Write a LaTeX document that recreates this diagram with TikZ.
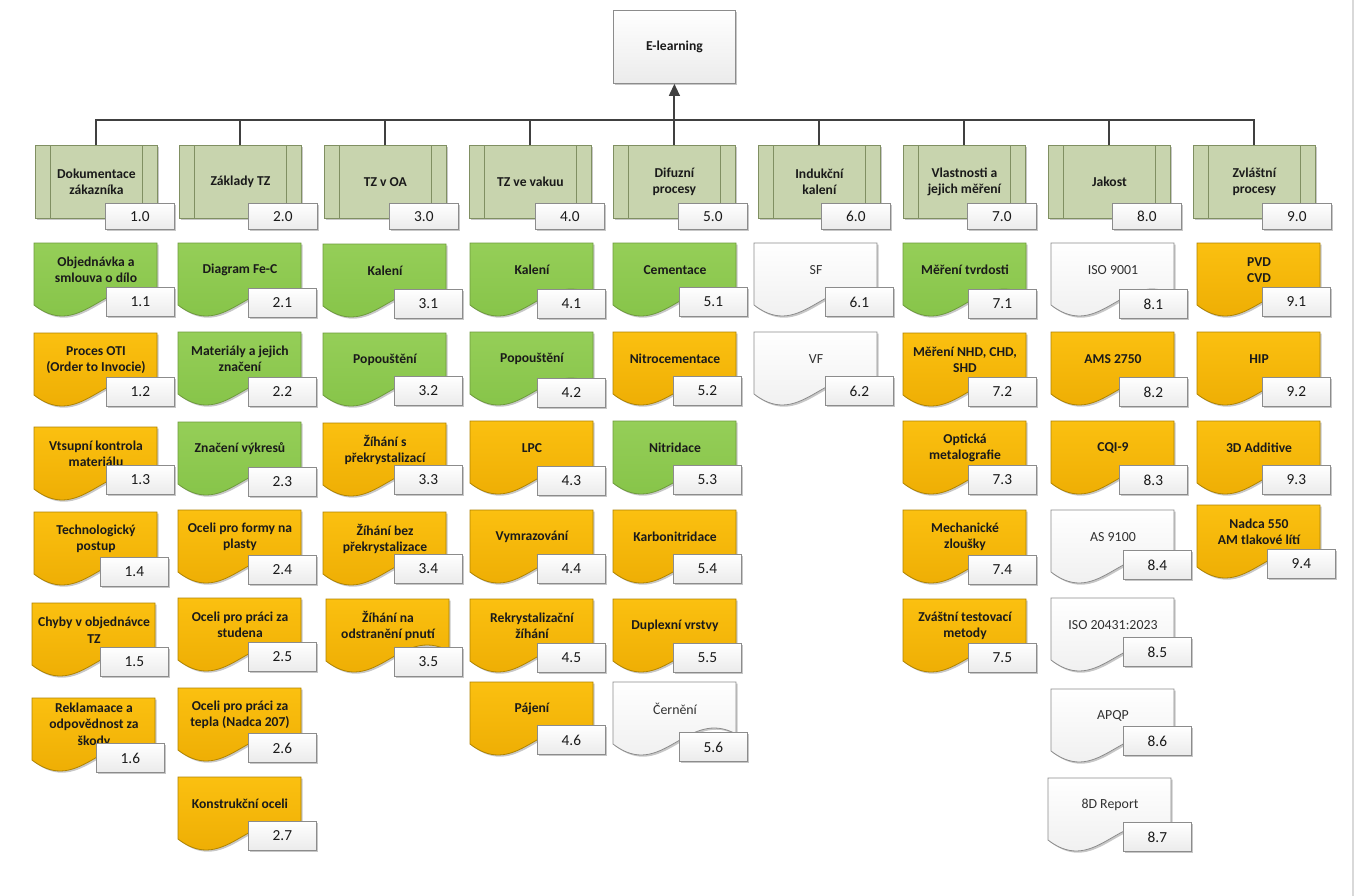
\documentclass[tikz,border=0pt]{standalone}
\usepackage{fontspec}
\setmainfont{Carlito}
\usetikzlibrary{arrows.meta,shadows}
\definecolor{gTop}{HTML}{95CE58}
\definecolor{gBot}{HTML}{82C144}
\definecolor{gBrd}{HTML}{6E9B3C}
\definecolor{oTop}{HTML}{FBC010}
\definecolor{oBot}{HTML}{EAA800}
\definecolor{oBrd}{HTML}{B08400}
\definecolor{wBot}{HTML}{EBEBEB}
\definecolor{wBrd}{HTML}{8C8C8C}
\definecolor{hFill}{HTML}{C8D4AE}
\definecolor{hBrd}{HTML}{808F62}
\definecolor{txt}{HTML}{1A1A1A}
\definecolor{lineC}{HTML}{404040}
\tikzset{
  myshadow/.style={drop shadow={shadow xshift=1.3pt,shadow yshift=-1.3pt,opacity=0.22,fill=black}},
  docshape/.style={line width=0.6pt,myshadow},
  greenfill/.style={top color=gTop,bottom color=gBot,draw=gBrd},
  orangefill/.style={top color=oTop,bottom color=oBot,draw=oBrd},
  whitefill/.style={top color=white,bottom color=wBot,draw=wBrd},
  boldtext/.style={align=center,text=txt,inner sep=0pt,font=\fontsize{10.2}{12.4}\selectfont\bfseries},
  greentext/.style={boldtext},
  orangetext/.style={boldtext},
  whitetext/.style={align=center,text=txt!90,inner sep=0pt,font=\fontsize{10.4}{12.4}\selectfont},
  numbox/.style={draw=wBrd,line width=0.6pt,top color=white,bottom color=wBot,myshadow,
    minimum width=51pt,minimum height=21.75pt,inner sep=0pt,text=txt,font=\fontsize{11.5}{13}\selectfont},
  hnumbox/.style={numbox,minimum width=51.75pt,minimum height=19.5pt},
  hdrbox/.style={draw=hBrd,fill=hFill,line width=0.6pt,myshadow,minimum width=91.5pt,minimum height=54.75pt,
    inner sep=0pt,align=center,text=txt,font=\fontsize{10.2}{12.4}\selectfont\bfseries},
  hdrline/.style={draw=hBrd,line width=0.6pt},
  rootbox/.style={draw=wBrd,top color=white,bottom color=wBot,line width=0.6pt,myshadow,
    minimum width=91.5pt,minimum height=54.75pt,inner sep=0pt,text=txt,font=\fontsize{10.2}{12.4}\selectfont\bfseries},
  conn/.style={draw=lineC,line width=1.5pt},
}
\newcommand\docbox[8]{%
  \path[docshape,#4fill] (#2,#3) -- ({#2+123},#3) -- ({#2+123},{#3+52})
    .. controls ({#2+74},{#3+25}) and ({#2+49},{#3+100}) .. (#2,{#3+62}) -- cycle;
  \node[#4text] (c#1) at ({#2+62},{#3+27}) {#5};
  \node[numbox,anchor=north west] (n#1) at (#7,#8) {#6};
}
\newcommand\hdr[5]{%
  \node[hdrbox,anchor=north west] (h#1) at (#2,145) {#3};
  \draw[hdrline] ([xshift=11.25pt]h#1.north west) -- ([xshift=11.25pt]h#1.south west);
  \draw[hdrline] ([xshift=-11.25pt]h#1.north east) -- ([xshift=-11.25pt]h#1.south east);
  \node[hnumbox,anchor=north west] (hn#1) at (#5,203) {#4};
}
\begin{document}
\begin{tikzpicture}[x=0.75pt,y=-0.75pt]
\useasboundingbox[fill=white] (0,0) rectangle (1361,896);
\draw[gray!30,line width=0.8pt] (1353,0) -- (1353,896);

% root
\node[rootbox,anchor=north west] (root) at (613,10) {E-learning};

% headers
\hdr{1}{35}{Dokumentace\\zákazníka}{1.0}{105}
\hdr{2}{179}{Základy TZ}{2.0}{248}
\hdr{3}{324}{TZ v OA}{3.0}{389}
\hdr{4}{469}{TZ ve vakuu}{4.0}{535}
\hdr{5}{613}{Difuzní\\procesy}{5.0}{678}
\hdr{6}{758}{Indukční\\kalení}{6.0}{821}
\hdr{7}{903}{Vlastnosti a\\jejich měření}{7.0}{967}
\hdr{8}{1048}{Jakost}{8.0}{1112}
\hdr{9}{1193}{Zvláštní\\procesy}{9.0}{1262}

% connectors
\coordinate (bus) at (674,120);
\foreach \i in {1,2,3,4,6,7,8,9}{\draw[conn] (h\i.north) |- (bus);}
\draw[conn,-{Triangle[length=9pt,width=8pt]}] (h5.north) -- (root.south);

% column 1
\docbox{11}{34}{243}{green}{Objednávka a\\smlouva o dílo}{1.1}{106}{287}
\docbox{12}{34}{333}{orange}{Proces OTI\\(Order to Invocie)}{1.2}{106}{377}
\docbox{13}{34}{427}{orange}{Vtsupní kontrola\\materiálu}{1.3}{106}{465}
\docbox{14}{34}{512}{orange}{Technologický\\postup}{1.4}{100}{557}
\docbox{15}{32}{603}{orange}{Chyby v objednávce\\TZ}{1.5}{100}{647}
\docbox{16}{32}{698}{orange}{Reklamaace a\\odpovědnost za\\škody}{1.6}{96}{743}
% column 2
\docbox{21}{178}{243}{green}{Diagram Fe-C}{2.1}{248}{288}
\docbox{22}{178}{332}{green}{Materiály a jejich\\značení}{2.2}{248}{377}
\docbox{23}{178}{422}{green}{Značení výkresů}{2.3}{248}{467}
\docbox{24}{178}{510}{orange}{Oceli pro formy na\\plasty}{2.4}{248}{555}
\docbox{25}{178}{598}{orange}{Oceli pro práci za\\studena}{2.5}{248}{642}
\docbox{26}{178}{688}{orange}{Oceli pro práci za\\tepla (Nadca 207)}{2.6}{248}{733}
\docbox{27}{178}{777}{orange}{Konstrukční oceli}{2.7}{248}{821}
% column 3
\docbox{31}{323}{244}{green}{Kalení}{3.1}{394}{289}
\docbox{32}{323}{333}{green}{Popouštění}{3.2}{394}{376}
\docbox{33}{323}{423}{orange}{Žíhání s\\překrystalizací}{3.3}{394}{465}
\docbox{34}{323}{512}{orange}{Žíhání bez\\překrystalizace}{3.4}{394}{554}
\docbox{35}{326}{599}{orange}{Žíhání na\\odstranění pnutí}{3.5}{394}{647}
% column 4
\docbox{41}{470}{243}{green}{Kalení}{4.1}{537}{289}
\docbox{42}{470}{332}{green}{Popouštění}{4.2}{537}{378}
\docbox{43}{470}{421}{orange}{LPC}{4.3}{537}{466}
\docbox{44}{470}{510}{orange}{Vymrazování}{4.4}{537}{554}
\docbox{45}{470}{599}{orange}{Rekrystalizační\\žíhání}{4.5}{537}{643}
\docbox{46}{470}{682}{orange}{Pájení}{4.6}{537}{725}
% column 5
\docbox{51}{613}{243}{green}{Cementace}{5.1}{679}{287}
\docbox{52}{613}{332}{orange}{Nitrocementace}{5.2}{673}{376}
\docbox{53}{613}{421}{green}{Nitridace}{5.3}{673}{465}
\docbox{54}{613}{510}{orange}{Karbonitridace}{5.4}{673}{554}
\docbox{55}{613}{599}{orange}{Duplexní vrstvy}{5.5}{673}{643}
\docbox{56}{613}{682}{white}{Černění}{5.6}{679}{732}
% column 6
\docbox{61}{754}{243}{white}{SF}{6.1}{825}{287}
\docbox{62}{754}{332}{white}{VF}{6.2}{825}{376}
% column 7
\docbox{71}{903}{243}{green}{Měření tvrdosti}{7.1}{968}{289}
\docbox{72}{903}{333}{orange}{Měření NHD, CHD,\\SHD}{7.2}{968}{377}
\docbox{73}{903}{421}{orange}{Optická\\metalografie}{7.3}{968}{465}
\docbox{74}{903}{510}{orange}{Mechanické\\zloušky}{7.4}{968}{555}
\docbox{75}{903}{599}{orange}{Zváštní testovací\\metody}{7.5}{968}{643}
% column 8
\docbox{81}{1051}{243}{white}{ISO 9001}{8.1}{1119}{289}
\docbox{82}{1051}{332}{orange}{AMS 2750}{8.2}{1119}{377}
\docbox{83}{1051}{421}{orange}{CQI-9}{8.3}{1119}{465}
\docbox{84}{1051}{510}{white}{AS 9100}{8.4}{1123}{550}
\docbox{85}{1051}{598}{white}{ISO 20431:2023}{8.5}{1123}{637}
\docbox{86}{1051}{689}{white}{APQP}{8.6}{1123}{726}
\docbox{87}{1048}{778}{white}{8D Report}{8.7}{1123}{822}
% column 9
\docbox{91}{1197}{243}{orange}{PVD\\CVD}{9.1}{1262}{287}
\docbox{92}{1197}{332}{orange}{HIP}{9.2}{1262}{377}
\docbox{93}{1197}{421}{orange}{3D Additive}{9.3}{1262}{465}
\docbox{94}{1197}{505}{orange}{Nadca 550\\AM tlakové lítí}{9.4}{1267}{549}
\end{tikzpicture}
\end{document}
